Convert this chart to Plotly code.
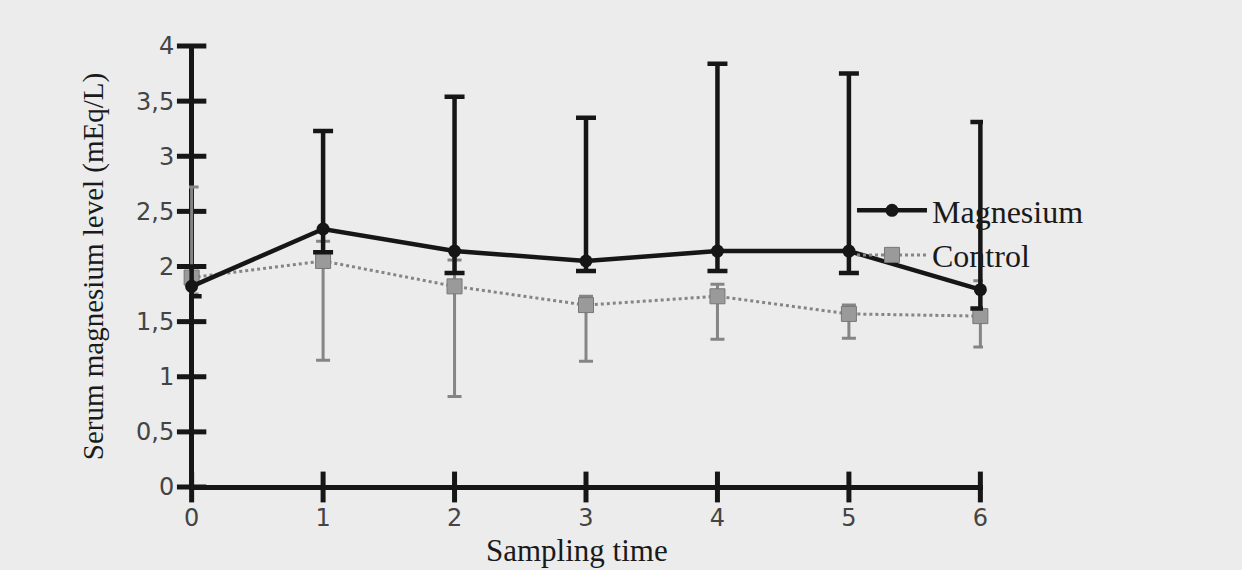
import plotly.graph_objects as go

# Data
sampling_times = [0, 1, 2, 3, 4, 5, 6]
mg_mean = [1.82, 2.34, 2.14, 2.05, 2.14, 2.14, 1.79]
mg_upper = [2.00, 3.23, 3.54, 3.35, 3.84, 3.75, 3.31]
mg_lower = [1.73, 2.13, 1.94, 1.96, 1.96, 1.94, 1.62]
ctrl_mean = [1.90, 2.05, 1.82, 1.65, 1.73, 1.57, 1.55]
ctrl_upper = [2.72, 2.23, 2.06, 1.73, 1.84, 1.65, 1.87]
ctrl_lower = [1.75, 1.15, 0.82, 1.14, 1.34, 1.35, 1.27]

y_tickvals = [0, 0.5, 1, 1.5, 2, 2.5, 3, 3.5, 4]
y_ticktext = ["0", "0,5", "1", "1,5", "2", "2,5", "3", "3,5", "4"]
x_ticktext = ["0", "1", "2", "3", "4", "5", "6"]

mg_plus = [u - m for u, m in zip(mg_upper, mg_mean)]
mg_minus = [m - l for l, m in zip(mg_lower, mg_mean)]
ctrl_plus = [u - m for u, m in zip(ctrl_upper, ctrl_mean)]
ctrl_minus = [m - l for l, m in zip(ctrl_lower, ctrl_mean)]

BLACK = "#161616"
GRAY = "#858585"
BG = "#ececec"

fig = go.Figure()

# crossing tick marks on both axes (centred on the axis lines)
fig.add_trace(go.Scatter(
    x=sampling_times, y=[y_tickvals[0]] * len(sampling_times), mode="markers",
    marker=dict(symbol="line-ns", size=22, line=dict(color=BLACK, width=5)),
    showlegend=False, hoverinfo="skip", cliponaxis=False,
))
fig.add_trace(go.Scatter(
    x=[sampling_times[0]] * len(y_tickvals), y=y_tickvals, mode="markers",
    marker=dict(symbol="line-ew", size=21, line=dict(color=BLACK, width=5)),
    showlegend=False, hoverinfo="skip", cliponaxis=False,
))

fig.add_trace(go.Scatter(
    x=sampling_times, y=ctrl_mean, name="Control", mode="lines+markers",
    line=dict(color=GRAY, width=3, dash="dot"),
    marker=dict(symbol="square", size=15, color="#9a9a9a",
                line=dict(color="#777777", width=1)),
    error_y=dict(type="data", symmetric=False, array=ctrl_plus,
                 arrayminus=ctrl_minus, color=GRAY, thickness=3, width=7),
    cliponaxis=False, legendrank=2,
))

fig.add_trace(go.Scatter(
    x=sampling_times, y=mg_mean, name="Magnesium", mode="lines+markers",
    line=dict(color=BLACK, width=4.5),
    marker=dict(symbol="circle", size=13, color=BLACK),
    error_y=dict(type="data", symmetric=False, array=mg_plus,
                 arrayminus=mg_minus, color=BLACK, thickness=4.5, width=10),
    cliponaxis=False, legendrank=1,
))

serif = "Liberation Serif, Times New Roman, serif"
sans = "DejaVu Sans, Verdana, sans-serif"
xr = [-0.02, 6.02]
yr = [0, 4]

fig.update_layout(
    width=1242, height=570,
    paper_bgcolor=BG, plot_bgcolor=BG,
    margin=dict(l=189, r=259, t=46, b=83),
    showlegend=True,
    legend=dict(x=0.835, y=0.576, xanchor="left", yanchor="middle",
                bgcolor="rgba(0,0,0,0)", font=dict(family=serif, size=32, color="#1a1a1a"),
                tracegroupgap=0, itemwidth=70),
    xaxis=dict(range=xr, tickvals=sampling_times, ticktext=x_ticktext,
               showline=False, showgrid=False,
               zeroline=True, zerolinecolor=BLACK, zerolinewidth=4.5,
               ticks="outside", ticklen=9, tickwidth=5,
               tickcolor="rgba(0,0,0,0)", layer="below traces",
               tickfont=dict(family=sans, size=24, color="#444444")),
    yaxis=dict(range=yr, tickvals=y_tickvals, ticktext=y_ticktext,
               showline=False, showgrid=False,
               zeroline=True, zerolinecolor=BLACK, zerolinewidth=4.5,
               ticks="outside", ticklen=9, tickwidth=5,
               tickcolor="rgba(0,0,0,0)", layer="below traces",
               tickfont=dict(family=sans, size=24, color="#444444"),
               title=dict(text="Serum magnesium level (mEq/L)", standoff=23,
                          font=dict(family=serif, size=29, color="#1a1a1a"))),
    annotations=[dict(text="Sampling time", xref="paper", yref="paper",
                      x=0.489, y=-0.143, xanchor="center", yanchor="middle",
                      showarrow=False,
                      font=dict(family=serif, size=31, color="#1a1a1a"))],
)

fig.write_html(
    "out.html",
    config={"displayModeBar": False},
    post_script="document.body.style.margin='0px';document.body.style.background='#ececec';",
)
